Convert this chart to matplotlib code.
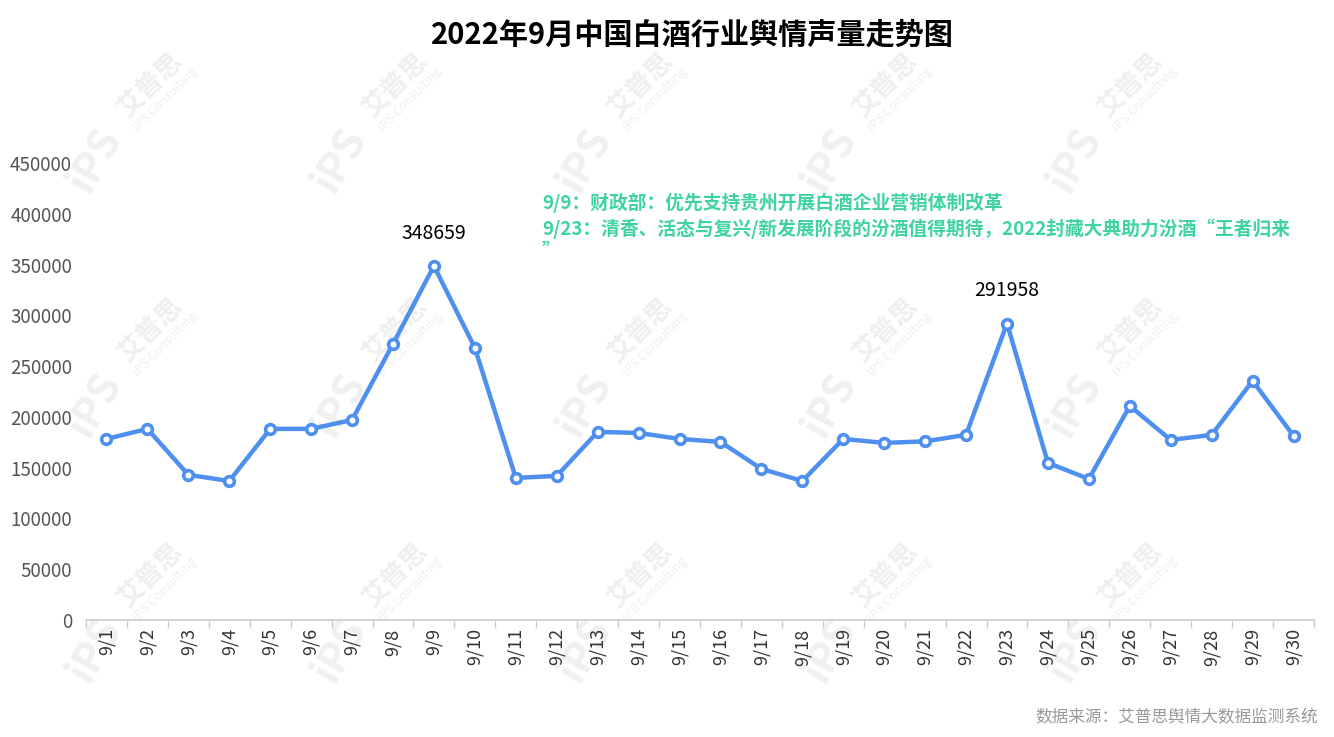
import matplotlib
matplotlib.use("Agg")
import matplotlib.pyplot as plt

plt.rcParams["font.family"] = ["Noto Sans CJK SC", "DejaVu Sans"]

# ─── DATA ────────────────────────────────────────────────────────────────────
dates = [f"9/{d}" for d in range(1, 31)]
volumes = [178300, 188200, 142900, 136900, 188200, 188200, 197000, 271900,
           348659, 268000, 139900, 141900, 185200, 184200, 178300, 175400,
           148800, 136900, 178300, 174400, 175900, 182300, 291958, 154700,
           138900, 210800, 177300, 182300, 235500, 181300]
peak_labels = {8: "348659", 22: "291958"}
events = [
    "9/9：财政部：优先支持贵州开展白酒企业营销体制改革",
    "9/23：清香、活态与复兴/新发展阶段的汾酒值得期待，2022封藏大典助力汾酒“王者归来",
    "”",
]
y_ticks = list(range(0, 450001, 50000))

LINE = "#4f8ff0"
GREEN = "#3fd49f"

fig = plt.figure(figsize=(13.34, 7.37), dpi=100)

# faint watermark pattern behind the chart
for cx in [150, 395, 640, 885, 1130]:
    for cy in [85, 330, 575]:
        fig.text(cx / 1334, 1 - cy / 737, "艾普思", rotation=45, fontsize=19,
                 fontweight="bold", color="#efefef", ha="center", va="center", zorder=-5)
        fig.text((cx + 15) / 1334, 1 - (cy + 15) / 737, "IPS Consulting", rotation=45,
                 fontsize=9, color="#f0f0f0", ha="center", va="center", zorder=-5)
        fig.text((cx - 55) / 1334, 1 - (cy + 75) / 737, "iPS", rotation=60, fontsize=30,
                 fontweight="bold", fontstyle="italic", color="#f0f0f0",
                 ha="center", va="center", zorder=-5)

ax = fig.add_axes([86 / 1334, 1 - 620 / 737, 1228 / 1334, (620 - 163) / 737], zorder=1)
ax.patch.set_alpha(0)

x = list(range(len(dates)))
ax.plot(x, volumes, color=LINE, lw=3.2, marker="o", markersize=7,
        markerfacecolor="white", markeredgecolor=LINE, markeredgewidth=2.6, zorder=3)

for i, lbl in peak_labels.items():
    ax.annotate(lbl, (i, volumes[i]), xytext=(0, 16), textcoords="offset points",
                ha="center", va="bottom", fontsize=14, color="black")

ax.set_xlim(-0.5, len(dates) - 0.5)
ax.set_ylim(0, 450000)
ax.set_yticks(y_ticks)
ax.set_yticklabels([str(v) for v in y_ticks], fontsize=13.5, color="#555555")
ax.set_xticks([i - 0.5 for i in range(len(dates) + 1)], minor=False)
ax.set_xticklabels([""] * (len(dates) + 1))
ax.set_xticks(x, minor=True)
ax.set_xticklabels(dates, minor=True, rotation=90, fontsize=13, color="#333333")
ax.tick_params(axis="x", which="major", length=6, color="#cccccc", width=1)
ax.tick_params(axis="x", which="minor", length=0, pad=6)
ax.tick_params(axis="y", length=0, pad=10)

for s in ["top", "right", "left"]:
    ax.spines[s].set_visible(False)
ax.spines["bottom"].set_color("#cccccc")
ax.spines["bottom"].set_linewidth(1.2)

fig.text(692 / 1334, 1 - 35 / 737, "2022年9月中国白酒行业舆情声量走势图",
         ha="center", va="center", fontsize=21, fontweight="bold", color="black")

for j, line in enumerate(events):
    fig.text(542 / 1334, 1 - [203, 229, 251][j] / 737, line, ha="left", va="center",
             fontsize=13.5, fontweight="bold", color=GREEN)

fig.text(1318 / 1334, 1 - 718 / 737, "数据来源：艾普思舆情大数据监测系统",
         ha="right", va="center", fontsize=12, color="#999999")

fig.savefig("out.png", dpi=100)
